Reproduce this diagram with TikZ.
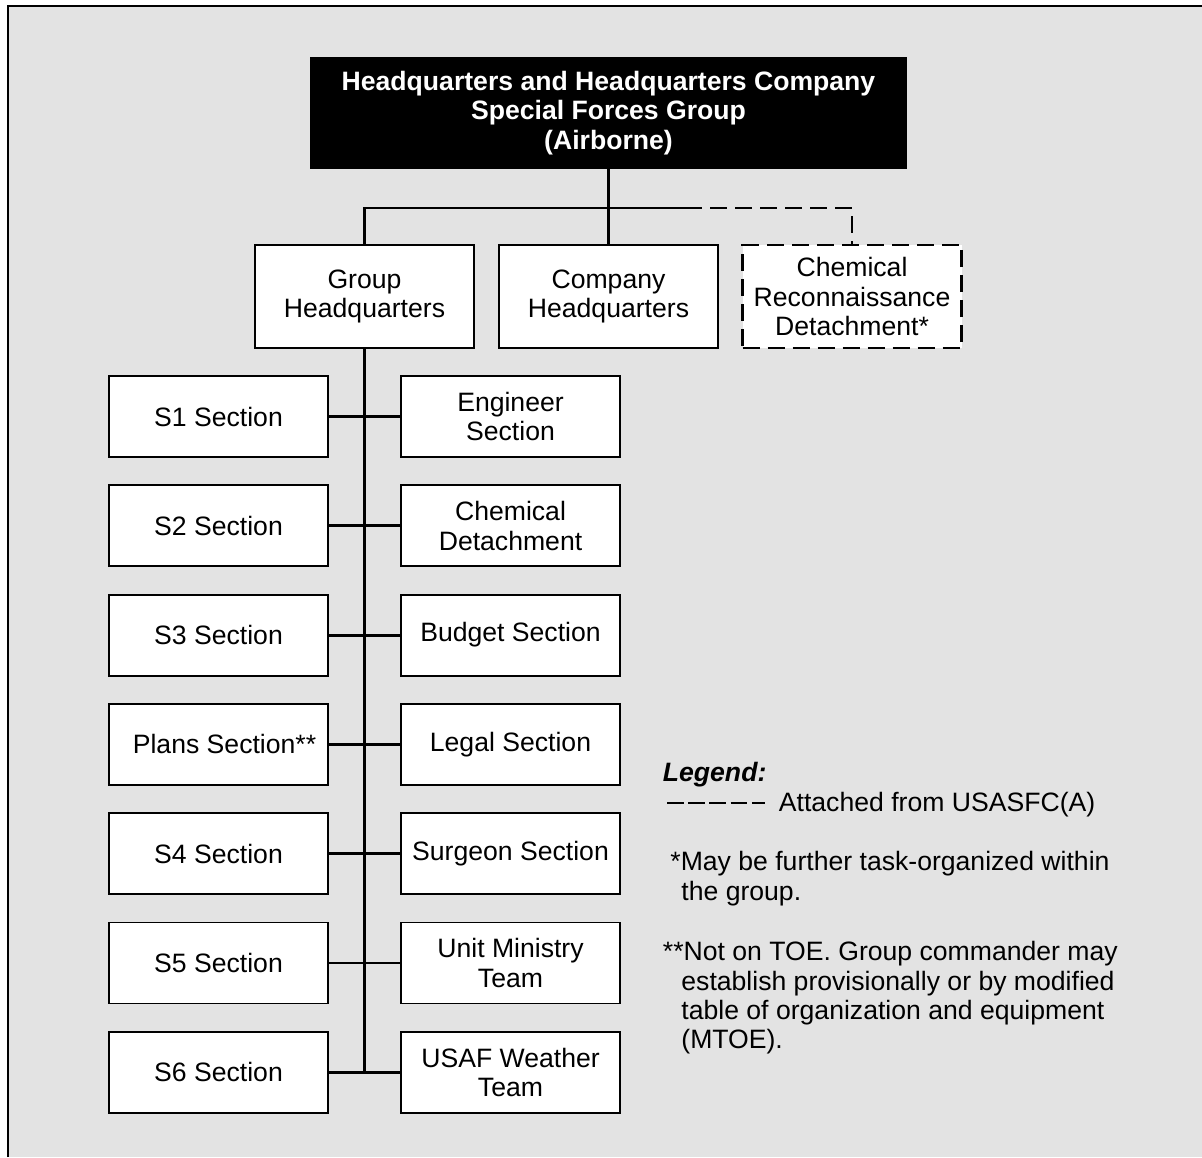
\documentclass[tikz,border=0pt]{standalone}
\usepackage{fontspec}
\setmainfont{Liberation Sans}
\definecolor{bg}{RGB}{227,227,227}
\begin{document}
\begin{tikzpicture}[x=0.5pt,y=-0.5pt,
  txt/.style={font=\fontsize{13.3}{14.75}\selectfont},
  box/.style={txt, draw=black, line width=0.9pt, fill=white, minimum width=109.5pt, minimum height=40.5pt, inner sep=0pt, align=center},
  midbox/.style={box, minimum height=51.5pt},
  dbox/.style={midbox, line width=1.4pt, dash pattern=on 8.5pt off 4pt},
  topbox/.style={txt, fill=black, text=white, font=\fontsize{13.3}{14.75}\selectfont\bfseries, minimum width=298.5pt, minimum height=56pt, inner sep=0pt, align=center},
  conn/.style={line width=1.4pt},
  dconn/.style={line width=1.4pt, dash pattern=on 8.5pt off 4pt},
  legtxt/.style={txt, anchor=base west, inner sep=0pt}]
\useasboundingbox (0,0) rectangle (1202,1157);
\fill[bg] (8,6) rectangle (1202,1157);
\draw[line width=1.3pt] (8,1157) -- (8,6) -- (1202,6);
% top
\node[topbox] (hq) at (608.5,113) {Headquarters and Headquarters Company\\Special Forces Group\\(Airborne)};
% second level
\node[midbox] (ghq) at (364.5,296.5) {Group\\Headquarters};
\node[midbox] (chq) at (608.5,296.5) {Company\\Headquarters};
\node[dbox] (crd) at (852,296.5) {Chemical\\Reconnaissance\\Detachment*};
\coordinate (busl) at (364.5,208);
\coordinate (busm) at (685,208);
\coordinate (busr) at (852,208);
\draw[conn] (hq.south) -- (chq.north);
\draw[conn] (ghq.north) -- (busl) -- (busm);
\draw[dconn] (busm) -- (busr) -- (crd.north);
% sections
\foreach \n/\l/\r [count=\i from 0] in {a/S1 Section/Engineer\\Section, b/S2 Section/Chemical\\Detachment, c/S3 Section/Budget Section, d/\hspace*{6pt}Plans Section**/Legal Section, e/S4 Section/Surgeon Section, f/S5 Section/Unit Ministry\\Team, g/S6 Section/USAF Weather\\Team}{
  \node[box] (L\n) at (218.5,{416.5+109.3*\i}) {\l};
  \node[box] (R\n) at (510.5,{416.5+109.3*\i}) {\r};
  \draw[conn] (L\n.east) -- (R\n.west);
}
\coordinate (spineend) at (364.5,1072.3);
\draw[conn] (ghq.south) -- (spineend);
% legend
\node[legtxt, font=\fontsize{13.3}{14.75}\selectfont\bfseries\itshape] (leg) at (662.5,781.5) {Legend:};
\coordinate (la) at (667,803);
\coordinate (lb) at (765,803);
\draw[line width=1.4pt, dash pattern=on 8.3pt off 2.3pt] (la) -- (lb);
\node[legtxt] (att) at (778.5,811.5) {Attached from USASFC(A)};
\node[legtxt] (n1a) at (670,870) {*May be further task-organized within};
\node[legtxt] (n1b) at (681,900) {the group.};
\node[legtxt] (n2a) at (662.5,960) {**Not on TOE. Group commander may};
\node[legtxt] (n2b) at (681,990) {establish provisionally or by modified};
\node[legtxt] (n2c) at (681,1019) {table of organization and equipment};
\node[legtxt] (n2d) at (681,1048) {(MTOE).};
\end{tikzpicture}
\end{document}
